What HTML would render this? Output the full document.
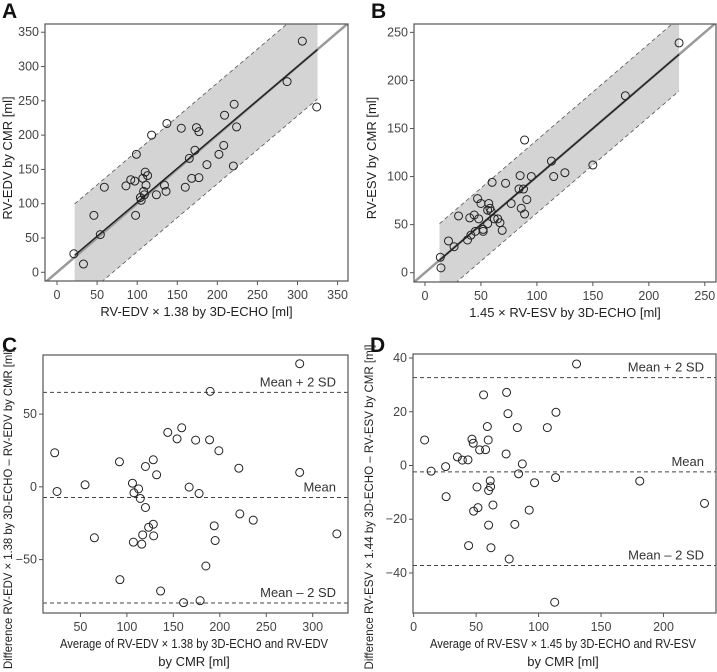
<!DOCTYPE html>
<html><head><meta charset="utf-8"><style>
html,body{margin:0;padding:0;background:#fff;}
svg{display:block;font-family:"Liberation Sans",sans-serif;}
</style></head><body>
<svg id="chart" width="717" height="672" viewBox="0 0 717 672" xmlns="http://www.w3.org/2000/svg"></svg>
<script>
// ---- Panel A data ----
const aX=[21,33,46,54,59,86,92,97,99,98,104,105,107,108,109,110,111,113,118,124,134,136,137,155,160,165,168,172,174,177,177,187,202,208,209,220,221,224,287,306,324];
const aY=[27,12,83,55,124,126,135,133,172,83,109,105,137,118,113,146,127,141,200,113,127,118,217,210,124,166,137,178,211,205,138,157,172,185,229,155,245,212,278,337,241];
const aTicks=[0,50,100,150,200,250,300,350];
// ---- Panel B data ----
const bX=[13.7,14.3,21,26,30,38,40,41,44,45,47,48,50,52,52,56,57,56,58,59,60,62,65,67,69,72,77,84,85,86,88,89,89,91,95,113,115,125,150,179,227];
const bY=[16,5,33,27,59,34,57,39,60,43,77,56,72,45,43,51,72,65,67,64,94,56,56,52,44,93,72,87,101,67,87,138,61,76,100,116,100,104,112,184,239];
const bTicks=[0,50,100,150,200,250];
// ---- Panel C data ----
const cX=[22.3,24.8,55,65,92,92.5,106,107.6,107,112.6,114.4,116,117,120,120,123.4,128.4,128.4,128.8,132,136.3,144,154,159,161,167,174,177.7,178.8,185,189,189.6,194,195,199,220.5,221.6,236,286,286,326];
const cY=[23.4,-3.2,1.4,-35,17.2,-63.8,2.5,-4.1,-38,-1.4,-8,-39.4,-33,14,-14.2,-27.8,18.6,-25.7,-33.7,8.3,-71.6,37.4,33,40.6,-79.6,-0.2,32.1,-4.6,-78.2,-54.4,32.3,65.6,-26.8,-36.9,24.8,12.8,-18.6,-22.9,84.6,9.9,-32.3];
const cXTicks=[50,100,150,200,250,300];
const cYTicks=[-50,0,50];
const cLines=[64.9,-7.3,-79.8];
// ---- Panel D data ----
const dX=[8.8,14,25.6,26,35,39,43.5,44,46.7,47.7,48,50.7,51.5,52.8,56,57.6,59,59.7,60,60,61.3,61.6,61.9,63.5,74,74.4,75.5,76.5,81,83,84,87,92.5,96.8,107,113.6,113.9,112.9,130.4,181,232.8];
const dY=[9.5,-2.1,-0.4,-11.6,3.2,2,2.1,-29.8,9.8,8.3,-17,-8,-15.7,5.8,26.3,5.9,14.5,9.5,-9.3,-22.2,-5.7,-7.9,-30.6,-14.7,4.3,27.2,19.3,-34.8,-21.9,14.1,-3.1,0.6,-16.6,-6.4,14.1,-4.5,19.8,-50.9,37.8,-5.8,-14.1];
const dXTicks=[0,50,100,150,200];
const dYTicks=[-40,-20,0,20,40];
const dLines=[32.7,-2.35,-37.2];
const lineLabels=["Mean + 2 SD","Mean","Mean \u2013 2 SD"];

const NS="http://www.w3.org/2000/svg";
const svg=document.getElementById('chart');
function mk(tag,attrs,parent){const e=document.createElementNS(NS,tag);for(const k in attrs)e.setAttribute(k,attrs[k]);(parent||svg).appendChild(e);return e;}

function panel(cfg){
  const g=mk('g',{});
  
  
  const {L,T,R,B,xmin,xmax,ymin,ymax}=cfg;
  const sx=v=>L+(v-xmin)/(xmax-xmin)*(R-L);
  const sy=v=>B-(v-ymin)/(ymax-ymin)*(B-T);
  const cid='clip-'+cfg.letter;
  const cp=mk('clipPath',{id:cid},g);mk('rect',{x:L,y:T,width:R-L,height:B-T},cp);
  const inner=mk('g',{'clip-path':'url(#'+cid+')'},g);
  if(cfg.band){
    const [bx1,bx2,sl,ic,up,lo]=cfg.band;
    const band=mk('polygon',{points:[[bx1,sl*bx1+ic+up],[bx2,sl*bx2+ic+up],[bx2,sl*bx2+ic+lo],[bx1,sl*bx1+ic+lo]].map(p=>sx(p[0])+','+sy(p[1])).join(' '),fill:'#d4d4d4'},inner);
    
    
    const id=mk('line',{x1:sx(xmin),y1:sy(xmin),x2:sx(xmax),y2:sy(xmax),stroke:'#9a9a9a','stroke-width':2.5},inner);
    
    
    [up,lo].forEach(o=>{const d=mk('line',{x1:sx(bx1),y1:sy(sl*bx1+ic+o),x2:sx(bx2),y2:sy(sl*bx2+ic+o),stroke:'#555','stroke-width':0.8,'stroke-dasharray':'4,3'},inner);
      
      });
    const rl=mk('line',{x1:sx(bx1),y1:sy(sl*bx1+ic),x2:sx(bx2),y2:sy(sl*bx2+ic),stroke:'#222','stroke-width':1.5},inner);
    
    
  }
  if(cfg.hlines){
    cfg.hlines.forEach((v,i)=>{
      const l=mk('line',{x1:L,y1:sy(v),x2:R,y2:sy(v),stroke:'#444','stroke-width':1,'stroke-dasharray':'4,3'},inner);
      
      
      const t=mk('text',{x:R-12,y:sy(v)-6,'text-anchor':'end','font-size':13,fill:'#333'},g);
      t.textContent=lineLabels[i];
      
      
    });
  }
  cfg.xs.forEach((xv,i)=>{
    const c=mk('circle',{cx:sx(xv),cy:sy(cfg.ys[i]),r:4,fill:'none',stroke:'#222','stroke-width':1},inner);
    
    
  });
  const fr=mk('rect',{x:L,y:T,width:R-L,height:B-T,fill:'none',stroke:'#555','stroke-width':1.2},g);
  
  
  cfg.xt.forEach(v=>{
    mk('line',{x1:sx(v),y1:B,x2:sx(v),y2:B+4,stroke:'#555'},g);
    const t=mk('text',{x:sx(v),y:B+18,'text-anchor':'middle','font-size':12.5,fill:'#444'},g);
    t.textContent=v<0?'\u2212'+(-v):v;
    
    
  });
  cfg.yt.forEach(v=>{
    mk('line',{x1:L-4,y1:sy(v),x2:L,y2:sy(v),stroke:'#555'},g);
    const t=mk('text',{x:L-6,y:sy(v)+4,'text-anchor':'end','font-size':12.5,fill:'#444'},g);
    t.textContent=v<0?'\u2212'+(-v):v;
    
    
  });
  const lt=mk('text',{x:cfg.lx,y:cfg.ly,'font-size':21,'font-weight':'bold',fill:'#111'},g);
  lt.textContent=cfg.letter;
  
  
  cfg.xtitle.forEach((s,i)=>{
    const xa={x:cfg.xtc||(L+R)/2,y:B+35+i*18,'text-anchor':'middle','font-size':13,fill:'#222'};
    if(cfg.xtlen&&i===0){xa.textLength=cfg.xtlen;xa.lengthAdjust='spacingAndGlyphs';}
    const t=mk('text',xa,g);
    t.textContent=s;
    
    
  });
  const ya={x:0,y:0,'text-anchor':'middle','font-size':cfg.ytlen?12:13,fill:'#222',transform:'translate('+cfg.ytx+','+cfg.ytc+') rotate(-90)'};
  if(cfg.ytlen){ya.textLength=cfg.ytlen;ya.lengthAdjust='spacingAndGlyphs';}
  const yt=mk('text',ya,g);
  yt.textContent=cfg.ytitle;
  
  
}

panel({name:'panel-a',letter:'A',lx:2,ly:18,L:45,T:24,R:348,B:281,xmin:-15,xmax:363,ymin:-12.7,ymax:362,
  xs:aX,ys:aY,xt:aTicks,yt:aTicks,band:[22,325,0.99,3,75,-72],
  xtitle:['RV-EDV \u00d7 1.38 by 3D-ECHO [ml]'],ytitle:'RV-EDV by CMR [ml]',ytx:12,ytc:158});
panel({name:'panel-b',letter:'B',lx:371,ly:18,L:414,T:24,R:716,B:282,xmin:-9.8,xmax:260,ymin:-9.7,ymax:258.7,
  xs:bX,ys:bY,xt:bTicks,yt:bTicks,band:[13,227,1.0,0,38,-38],
  xtitle:['1.45 \u00d7 RV-ESV by 3D-ECHO [ml]'],ytitle:'RV-ESV by CMR [ml]',ytx:376,ytc:158});
panel({name:'panel-c',letter:'C',lx:2,ly:352,L:43,T:355,R:348,B:613,xmin:9.7,xmax:338,ymin:-86.7,ymax:90.6,
  xs:cX,ys:cY,xt:cXTicks,yt:cYTicks,hlines:cLines,xtc:194,xtlen:268,
  xtitle:['Average of RV-EDV \u00d7 1.38 by 3D-ECHO and RV-EDV','by CMR [ml]'],ytitle:'Difference RV-EDV \u00d7 1.38 by 3D-ECHO \u2013 RV-EDV by CMR [ml]',ytx:12,ytc:509,ytlen:320});
panel({name:'panel-d',letter:'D',lx:370,ly:352,L:413,T:354,R:716,B:613,xmin:-0.5,xmax:242,ymin:-54.9,ymax:41.5,
  xs:dX,ys:dY,xt:dXTicks,yt:dYTicks,hlines:dLines,xtc:563,xtlen:266,
  xtitle:['Average of RV-ESV \u00d7 1.45 by 3D-ECHO and RV-ESV','by CMR [ml]'],ytitle:'Difference RV-ESV \u00d7 1.44 by 3D-ECHO \u2013 RV-ESV by CMR [ml]',ytx:373,ytc:507,ytlen:325});
</script>
</body></html>
